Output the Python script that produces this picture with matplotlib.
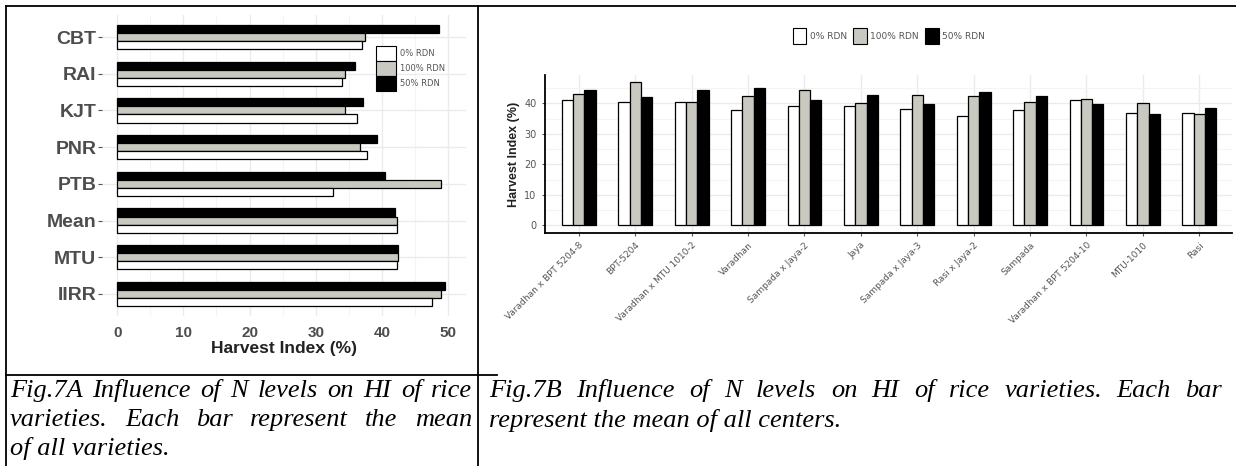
import matplotlib.pyplot as plt
import numpy as np
from matplotlib.patches import Patch
from matplotlib.lines import Line2D

# Fig.7A data: harvest index (%) per centre under three N levels
centres = ['CBT', 'RAI', 'KJT', 'PNR', 'PTB', 'Mean', 'MTU', 'IIRR']
hi_a_0 = [37.0, 34.0, 36.3, 37.8, 32.6, 42.3, 42.3, 47.5]
hi_a_100 = [37.5, 34.4, 34.4, 36.7, 48.9, 42.3, 42.4, 48.9]
hi_a_50 = [48.6, 36.0, 37.2, 39.3, 40.5, 42.0, 42.4, 49.5]

# Fig.7B data: harvest index (%) per variety under three N levels
varieties = ['Varadhan x BPT 5204-8', 'BPT-5204', 'Varadhan x MTU 1010-2',
             'Varadhan', 'Sampada x Jaya-2', 'Jaya', 'Sampada x Jaya-3',
             'Rasi x Jaya-2', 'Sampada', 'Varadhan x BPT 5204-10',
             'MTU-1010', 'Rasi']
hi_b_0 = [41.0, 40.5, 40.5, 37.7, 39.1, 39.0, 38.3, 35.7, 37.9, 41.2, 36.9, 36.9]
hi_b_100 = [43.0, 47.0, 40.5, 42.4, 44.3, 40.2, 42.8, 42.3, 40.4, 41.5, 40.2, 36.6]
hi_b_50 = [44.5, 42.0, 44.5, 45.1, 41.2, 42.9, 39.7, 43.7, 42.4, 39.7, 36.4, 38.5]

levels = ['0% RDN', '100% RDN', '50% RDN']
fills = ['white', '#c9c9c1', 'black']

W, H = 1236, 466
fig = plt.figure(figsize=(W / 100, H / 100), dpi=100)


def box(l, t, r, b):
    return [l / W, 1 - b / H, (r - l) / W, (b - t) / H]


def fline(x0, y0, x1, y1):
    fig.add_artist(Line2D([x0 / W, x1 / W], [1 - y0 / H, 1 - y1 / H],
                          color='black', lw=1.3, transform=fig.transFigure))


# ---- panel A: horizontal bars ----
ax = fig.add_axes(box(102, 15, 466, 316))
y = np.arange(len(centres))
h = 0.22
for vals, off, col in [(hi_a_50, -h, fills[2]), (hi_a_100, 0, fills[1]), (hi_a_0, h, fills[0])]:
    ax.barh(y + off, vals, height=h, color=col, edgecolor='black', linewidth=0.9, zorder=3)
ax.set_yticks(y)
ax.set_yticklabels(centres, fontsize=14, fontweight='bold', color='#4d4d4d',
                   family='Liberation Sans')
ax.set_ylim(len(centres) - 0.4, -0.6)
ax.set_xlim(-2.3, 52.7)
ax.set_xticks(np.arange(0, 51, 10))
ax.set_xticks(np.arange(5, 51, 10), minor=True)
ax.tick_params(axis='x', labelsize=11, colors='#4d4d4d', length=0, pad=7)
ax.tick_params(axis='y', length=3, color='#555555', pad=1)
ax.tick_params(which='minor', length=0)
for t in ax.get_xticklabels():
    t.set_family('Liberation Sans')
    t.set_fontweight('bold')
ax.set_xlabel('Harvest Index (%)', fontsize=12.5, fontweight='bold', color='#222222',
              family='Liberation Sans', labelpad=1)
ax.grid(which='major', color='#ebebeb', lw=1.0, zorder=0)
ax.grid(which='minor', axis='x', color='#f4f4f4', lw=0.8, zorder=0)
for s in ax.spines.values():
    s.set_visible(False)
handles = [Patch(facecolor=c, edgecolor='black', linewidth=0.8) for c in fills]
ax.legend(handles, levels, loc='upper left', bbox_to_anchor=(372 / W, 1 - 42 / H),
          bbox_transform=fig.transFigure, frameon=False, fontsize=6,
          labelcolor='#555555', handlelength=2.4, handleheight=2.4,
          labelspacing=0.0, handletextpad=0.4, borderpad=0)

# ---- panel B: grouped vertical bars ----
bx = fig.add_axes(box(545, 75, 1232, 233))
x = np.arange(len(varieties))
w = 0.2
for vals, off, col in [(hi_b_0, -w, fills[0]), (hi_b_100, 0, fills[1]), (hi_b_50, w, fills[2])]:
    bx.bar(x + off, vals, width=w, color=col, edgecolor='black', linewidth=0.9, zorder=3)
bx.set_xlim(-0.6, len(varieties) - 0.42)
bx.set_ylim(-2.5, 49.3)
bx.set_yticks(np.arange(0, 41, 10))
bx.set_yticks(np.arange(5, 46, 10), minor=True)
bx.set_xticks(x)
bx.set_xticklabels(varieties, rotation=45, ha='right', va='top',
                   rotation_mode='anchor', fontsize=6.5, color='#555555')
bx.tick_params(axis='both', labelsize=7, colors='#555555', length=2.5)
bx.tick_params(axis='x', labelsize=6.5, pad=3)
bx.tick_params(which='minor', length=0)
bx.set_ylabel('Harvest Index (%)', fontsize=9, fontweight='bold', color='#222222',
              family='Liberation Sans', labelpad=3)
bx.grid(which='major', color='#ebebeb', lw=1.0, zorder=0)
bx.grid(which='minor', axis='y', color='#f4f4f4', lw=0.8, zorder=0)
for s in ['top', 'right']:
    bx.spines[s].set_visible(False)
for s in ['left', 'bottom']:
    bx.spines[s].set_linewidth(1.3)
fig.legend(handles, levels, loc='center', bbox_to_anchor=(889 / W, 1 - 36 / H),
           ncol=3, frameon=False, fontsize=6.5, labelcolor='#555555',
           handlelength=1.5, handleheight=2.2, handletextpad=0.4,
           columnspacing=0.7)

# ---- table borders ----
fline(6, 6, W, 6)
fline(6, 6, 6, H)
fline(478, 6, 478, H)
fline(6, 375, 497, 375)

# ---- captions (justified lines spread word by word) ----
cap = dict(family='Liberation Serif', style='italic', fontsize=19,
           va='center', ha='left')
renderer = fig.canvas.get_renderer()


def caption_line(s, x0, x1, ypix, justify=True):
    yf = 1 - ypix / H
    if not justify:
        fig.text(x0 / W, yf, s, **cap)
        return
    words = s.split()
    texts = [fig.text(0, yf, wd, **cap) for wd in words]
    widths = [t.get_window_extent(renderer).width for t in texts]
    gap = (x1 - x0 - sum(widths)) / (len(words) - 1)
    pos = x0
    for t, wd in zip(texts, widths):
        t.set_x(pos / W)
        pos += wd + gap


caption_line('Fig.7A Influence of N levels on HI of rice', 10, 472, 391)
caption_line('varieties.  Each bar represent the mean', 10, 472, 420)
caption_line('of all varieties.', 10, 472, 449, justify=False)
caption_line('Fig.7B Influence of N levels on HI of rice varieties.  Each bar',
             489, 1222, 391)
caption_line('represent the mean of all centers.', 489, 1222, 420, justify=False)

fig.savefig('out.png', dpi=100)
